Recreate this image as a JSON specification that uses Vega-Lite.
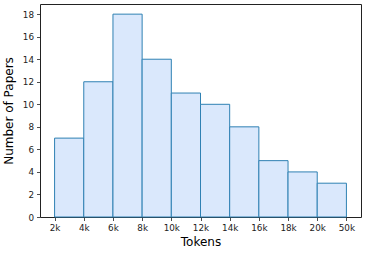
{
  "$schema": "https://vega.github.io/schema/vega-lite/v6.json",
  "width": 321,
  "height": 213,
  "autosize": {"type": "none"},
  "padding": {"left": 40, "top": 4, "right": 5, "bottom": 37},
  "config": {
    "font": "DejaVu Sans",
    "view": {"stroke": "#222222", "strokeWidth": 1},
    "axis": {"grid": false, "domain": false, "tickColor": "#222222", "tickSize": 3.5, "tickWidth": 0.8, "labelColor": "#222222", "labelFont": "DejaVu Sans", "labelFontSize": 8.8, "titleFont": "DejaVu Sans", "titleFontSize": 12, "titleFontWeight": "normal", "titleColor": "#000000", "labelPadding": 3}
  },
  "data": {
    "values": [
      {"start": 0, "end": 1, "papers": 7},
      {"start": 1, "end": 2, "papers": 12},
      {"start": 2, "end": 3, "papers": 18},
      {"start": 3, "end": 4, "papers": 14},
      {"start": 4, "end": 5, "papers": 11},
      {"start": 5, "end": 6, "papers": 10},
      {"start": 6, "end": 7, "papers": 8},
      {"start": 7, "end": 8, "papers": 5},
      {"start": 8, "end": 9, "papers": 4},
      {"start": 9, "end": 10, "papers": 3}
    ]
  },
  "mark": {"type": "rect", "fill": "#dae8fc", "stroke": "#2f81b3", "strokeWidth": 1},
  "encoding": {
    "x": {
      "field": "start", "type": "quantitative",
      "scale": {"domain": [-0.5, 10.5], "nice": false, "zero": false},
      "axis": {"title": "Tokens", "values": [0,1,2,3,4,5,6,7,8,9,10], "labelExpr": "['2k','4k','6k','8k','10k','12k','14k','16k','18k','20k','50k'][datum.value]", "titlePadding": 4, "labelFlush": false}
    },
    "x2": {"field": "end"},
    "y": {
      "field": "papers", "type": "quantitative",
      "scale": {"domain": [0, 18.9], "nice": false},
      "axis": {"title": "Number of Papers", "values": [0,2,4,6,8,10,12,14,16,18], "titlePadding": 7, "labelFlush": false}
    },
    "y2": {"datum": 0}
  }
}
